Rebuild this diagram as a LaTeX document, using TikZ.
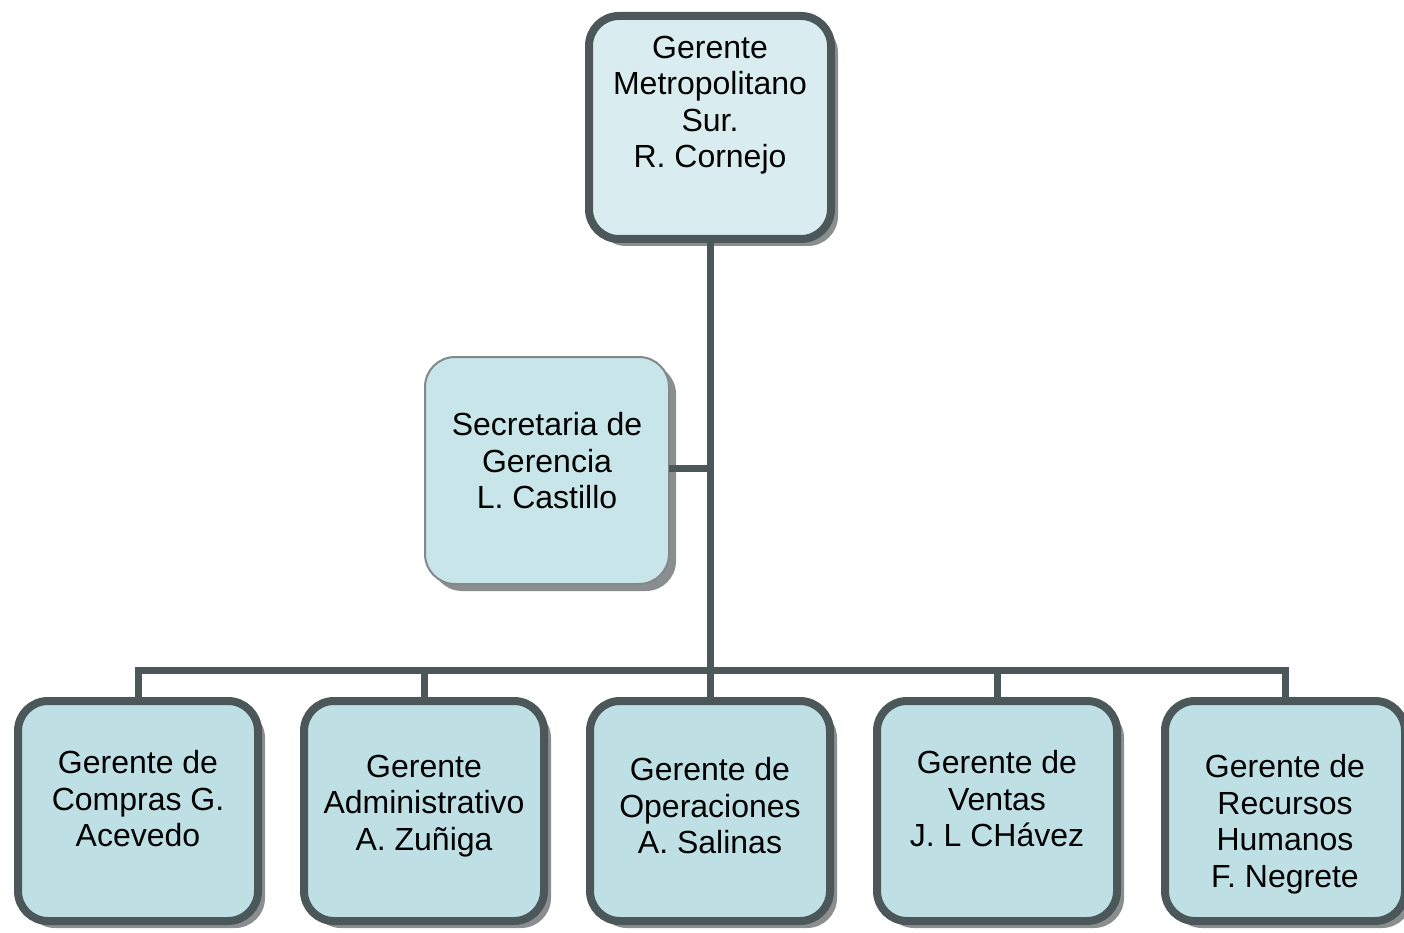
\documentclass[tikz,border=0pt]{standalone}
\usepackage{fontspec}
\setmainfont{Liberation Sans}
\usetikzlibrary{shadows}
\definecolor{edge}{HTML}{4B5759}
\definecolor{topfill}{HTML}{D9EDF1}
\definecolor{boxfill}{HTML}{BEE0E5}
\definecolor{secfill}{HTML}{C8E5E9}
\definecolor{shade}{HTML}{8A8E8F}
\tikzset{
  x=1pt, y=-1pt,
  orgbox/.style={draw=edge, line width=8pt, rounded corners=30pt, fill=boxfill,
    minimum width=240pt, minimum height=220pt, inner sep=0pt, outer sep=0pt,
    drop shadow={shadow xshift=7pt, shadow yshift=-7pt, fill=shade, opacity=1}},
  secbox/.style={orgbox, draw=edge!70, line width=2pt, fill=secfill},
  label/.style={font=\fontsize{32}{36.5}\selectfont, align=center, inner sep=0pt},
  link/.style={draw=edge, line width=7pt}
}
\begin{document}
\begin{tikzpicture}
\useasboundingbox (0,0) rectangle (1404,933);
\clip (0,0) rectangle (1404,933);

% junction points of the connector lines
\coordinate (b1) at (138,670);
\coordinate (b2) at (424,670);
\coordinate (b4) at (997,670);
\coordinate (b5) at (1285,670);
\coordinate (sj) at (710,468);

% boxes
\node[orgbox, fill=topfill, minimum width=242pt, minimum height=223pt] (top) at (710,127.5) {};
\node[secbox, minimum width=244pt, minimum height=227pt] (sec) at (547,470.5) {};
\node[orgbox] (c1) at (138,811) {};
\node[orgbox] (c2) at (424,811) {};
\node[orgbox] (c3) at (710,811) {};
\node[orgbox] (c4) at (997,811) {};
\node[orgbox] (c5) at (1285,811) {};

% connectors
\draw[link] (top.south) -- (c3.north);
\draw[link, line cap=rect] (b1) -- (b5);
\draw[link] (b1) -- (c1.north);
\draw[link] (b2) -- (c2.north);
\draw[link] (b4) -- (c4.north);
\draw[link] (b5) -- (c5.north);
\draw[link] (sj -| sec.east) -- (sj);

% texts
\node[label] (ttop) at (710,105) {Gerente\\Metropolitano\\Sur.\\R. Cornejo};
\node[label] (tsec) at (547,461) {Secretaria de\\Gerencia\\L. Castillo};
\node[label] (t1) at (138,799) {Gerente de\\Compras G.\\Acevedo};
\node[label] (t2) at (424,806) {Gerente\\Administrativo\\A. Zuñiga};
\node[label] (t3) at (710,806) {Gerente de\\Operaciones\\A. Salinas};
\node[label] (t4) at (997,799) {Gerente de\\Ventas\\J. L CHávez};
\node[label] (t5) at (1285,824) {Gerente de\\Recursos\\Humanos\\F. Negrete};
\end{tikzpicture}
\end{document}
